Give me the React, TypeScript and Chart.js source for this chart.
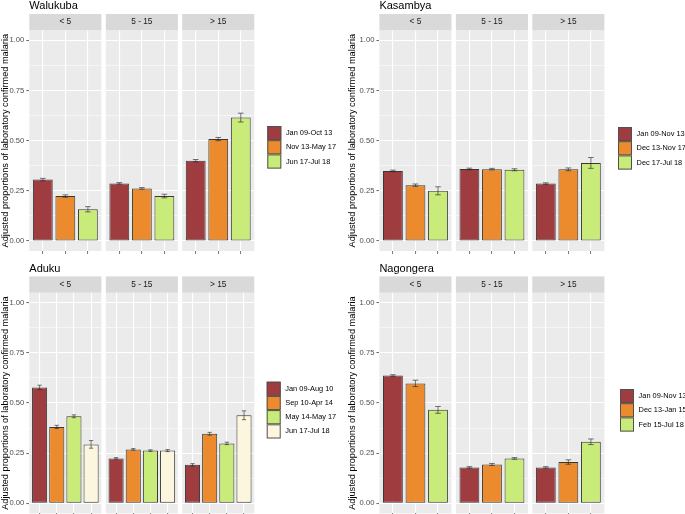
import React, { useEffect, useRef } from 'react';
import { Chart, registerables } from 'chart.js';

Chart.register(...registerables);

// ---------- data ----------
const AGE_GROUPS = ['< 5', '5 - 15', '> 15'];
const Y_TICK_VALUES = [0, 0.25, 0.5, 0.75, 1];
const Y_MINOR_VALUES = [0.125, 0.375, 0.625, 0.875];
const Y_TICK_LABELS = ['0.00', '0.25', '0.50', '0.75', '1.00'];
const Y_TITLE = 'Adjusted proportions of laboratory confirmed malaria';
const PERIOD_COLORS = ['#9E3C40', '#EC8B2E', '#C8EB7A', '#FDF6DF'];

const WALUKUBA_PERIODS = ['Jan 09-Oct 13', 'Nov 13-May 17', 'Jun 17-Jul 18'];
const WALUKUBA_U5 = [0.306, 0.224, 0.158];
const WALUKUBA_5_15 = [0.287, 0.262, 0.224];
const WALUKUBA_O15 = [0.4, 0.508, 0.615];
const WALUKUBA_ERR_U5 = [0.006, 0.006, 0.013];
const WALUKUBA_ERR_5_15 = [0.004, 0.004, 0.009];
const WALUKUBA_ERR_O15 = [0.006, 0.008, 0.022];

const KASAMBYA_PERIODS = ['Jan 09-Nov 13', 'Dec 13-Nov 17', 'Dec 17-Jul 18'];
const KASAMBYA_U5 = [0.349, 0.278, 0.25];
const KASAMBYA_5_15 = [0.359, 0.358, 0.355];
const KASAMBYA_O15 = [0.286, 0.357, 0.389];
const KASAMBYA_ERR_U5 = [0.004, 0.006, 0.02];
const KASAMBYA_ERR_5_15 = [0.004, 0.004, 0.005];
const KASAMBYA_ERR_O15 = [0.004, 0.007, 0.027];

const ADUKU_PERIODS = ['Jan 09-Aug 10', 'Sep 10-Apr 14', 'May 14-May 17', 'Jun 17-Jul 18'];
const ADUKU_U5 = [0.578, 0.381, 0.434, 0.294];
const ADUKU_5_15 = [0.224, 0.269, 0.263, 0.263];
const ADUKU_O15 = [0.192, 0.347, 0.299, 0.439];
const ADUKU_ERR_U5 = [0.011, 0.008, 0.007, 0.019];
const ADUKU_ERR_5_15 = [0.004, 0.004, 0.004, 0.005];
const ADUKU_ERR_O15 = [0.006, 0.007, 0.006, 0.022];

const NAGONGERA_PERIODS = ['Jan 09-Nov 13', 'Dec 13-Jan 15', 'Feb 15-Jul 18'];
const NAGONGERA_U5 = [0.637, 0.598, 0.466];
const NAGONGERA_5_15 = [0.179, 0.194, 0.224];
const NAGONGERA_O15 = [0.179, 0.206, 0.307];
const NAGONGERA_ERR_U5 = [0.004, 0.016, 0.017];
const NAGONGERA_ERR_5_15 = [0.004, 0.005, 0.004];
const NAGONGERA_ERR_O15 = [0.004, 0.011, 0.014];

// ---------- styling / layout ----------
const FONT = '"Liberation Sans", Arial, Helvetica, sans-serif';
const PANEL_BG = '#EBEBEB';
const STRIP_BG = '#D9D9D9';
const BAR_BORDER = 'rgba(40,40,40,0.92)';
const ERR_COLOR = 'rgba(40,40,40,0.8)';
const ERR_CAP = 0.25;
const KEY_SIZE = 14.2;

const FACET_W = 72.1;
const CANVAS_H = 262;
const X_AXIS_H = 4;
const STRIP_H = 16.3;
const COLS = [
  { start: 0, end: 343, titleX: 4.5, facetLefts: [29.3, 105.8, 182.2] },
  { start: 342, end: 685, titleX: 352, facetLefts: [379.4, 455.9, 532.3] },
];
const ROWS = [
  { top: 0, areaTop: 30.3, areaBottom: 251.0 },
  { top: 262, areaTop: 30.7, areaBottom: 251.4 },
];

const SITES = [
  { name: 'Walukuba', row: 0, col: 0, periods: WALUKUBA_PERIODS, values: [WALUKUBA_U5, WALUKUBA_5_15, WALUKUBA_O15], errors: [WALUKUBA_ERR_U5, WALUKUBA_ERR_5_15, WALUKUBA_ERR_O15], legend: { left: 267.3, top: 126 } },
  { name: 'Kasambya', row: 0, col: 1, periods: KASAMBYA_PERIODS, values: [KASAMBYA_U5, KASAMBYA_5_15, KASAMBYA_O15], errors: [KASAMBYA_ERR_U5, KASAMBYA_ERR_5_15, KASAMBYA_ERR_O15], legend: { left: 618, top: 127 } },
  { name: 'Aduku', row: 1, col: 0, periods: ADUKU_PERIODS, values: [ADUKU_U5, ADUKU_5_15, ADUKU_O15], errors: [ADUKU_ERR_U5, ADUKU_ERR_5_15, ADUKU_ERR_O15], legend: { left: 266.7, top: 381.7 } },
  { name: 'Nagongera', row: 1, col: 1, periods: NAGONGERA_PERIODS, values: [NAGONGERA_U5, NAGONGERA_5_15, NAGONGERA_O15], errors: [NAGONGERA_ERR_U5, NAGONGERA_ERR_5_15, NAGONGERA_ERR_O15], legend: { left: 620, top: 389 } },
];

type FacetProps = {
  col: number;
  row: number;
  index: number;
  title: string;
  strip: string;
  values: number[];
  errors: number[];
  legend?: { left: number; top: number; labels: string[] } | null;
};

function Facet({ col, row, index, title, strip, values, errors, legend }: FacetProps) {
  const ref = useRef<HTMLCanvasElement>(null);
  const C = COLS[col];
  const R = ROWS[row];
  const facetLeft = C.facetLefts[index];
  const facetRight = facetLeft + FACET_W;
  const showAxis = index === 0;
  const canvasLeft = showAxis ? C.start : Math.floor(facetLeft) - 1;
  const canvasRight = legend ? C.end : Math.ceil(facetRight) + 1;
  const width = canvasRight - canvasLeft;
  const titleLH = 9.2 * 1.2;
  const padLeft = showAxis ? Math.max(0, C.titleX - C.start - titleLH / 2) : facetLeft - canvasLeft;
  const axisW = showAxis ? facetLeft - canvasLeft - padLeft : 0;
  const padRight = canvasRight - facetRight;
  const padTop = R.areaTop;
  const padBottom = CANVAS_H - R.areaBottom - X_AXIS_H;

  useEffect(() => {
    const n = values.length;
    const decor = {
      id: 'facetDecor',
      beforeDraw(chart: any) {
        const { ctx, chartArea: a } = chart;
        ctx.save();
        ctx.fillStyle = PANEL_BG;
        ctx.fillRect(a.left, a.top, a.right - a.left, a.bottom - a.top);
        ctx.fillStyle = STRIP_BG;
        ctx.fillRect(a.left, a.top - STRIP_H, a.right - a.left, STRIP_H);
        ctx.fillStyle = '#1A1A1A';
        ctx.font = `8.3px ${FONT}`;
        ctx.textAlign = 'center';
        ctx.textBaseline = 'middle';
        ctx.fillText(strip, (a.left + a.right) / 2, a.top - STRIP_H / 2);
        if (title) {
          ctx.fillStyle = '#000000';
          ctx.font = `11px ${FONT}`;
          ctx.textAlign = 'left';
          ctx.textBaseline = 'alphabetic';
          ctx.fillText(title, a.left, a.top - 21);
        }
        if (legend) {
          const lx = legend.left - canvasLeft;
          const ly = legend.top - R.top;
          legend.labels.forEach((lab, i) => {
            const y = ly + i * KEY_SIZE;
            ctx.fillStyle = PERIOD_COLORS[i];
            ctx.fillRect(lx, y, 14, KEY_SIZE);
            ctx.strokeStyle = '#505050';
            ctx.lineWidth = 1;
            ctx.strokeRect(lx + 0.5, y + 0.5, 13, KEY_SIZE - 1);
            ctx.fillStyle = '#000000';
            ctx.font = `7.4px ${FONT}`;
            ctx.textAlign = 'left';
            ctx.textBaseline = 'middle';
            ctx.fillText(lab, lx + 14 + 4.6, y + KEY_SIZE / 2);
          });
        }
        ctx.restore();
      },
      afterDatasetsDraw(chart: any) {
        const { ctx } = chart;
        const xs = chart.scales.x;
        const ys = chart.scales.y;
        ctx.save();
        ctx.strokeStyle = ERR_COLOR;
        ctx.lineWidth = 0.8;
        values.forEach((v, i) => {
          const cx = xs.getPixelForValue(i);
          const hw = (xs.getPixelForValue(ERR_CAP) - xs.getPixelForValue(0)) / 2;
          const yl = ys.getPixelForValue(v - errors[i]);
          const yh = ys.getPixelForValue(v + errors[i]);
          ctx.beginPath();
          ctx.moveTo(cx, yl);
          ctx.lineTo(cx, yh);
          ctx.moveTo(cx - hw, yl);
          ctx.lineTo(cx + hw, yl);
          ctx.moveTo(cx - hw, yh);
          ctx.lineTo(cx + hw, yh);
          ctx.stroke();
        });
        ctx.restore();
      },
    };
    const allY = [...Y_TICK_VALUES, ...Y_MINOR_VALUES].sort((a, b) => a - b);
    const isMinor = (v: any) => Y_MINOR_VALUES.includes(v);
    const chart = new Chart(ref.current as HTMLCanvasElement, {
      type: 'bar',
      data: {
        datasets: [
          {
            data: values.map((v, i) => ({ x: i, y: v })),
            backgroundColor: PERIOD_COLORS.slice(0, n),
            borderColor: BAR_BORDER,
            borderWidth: 1,
            borderSkipped: false,
            barPercentage: 0.88,
            categoryPercentage: 1,
          } as any,
        ],
      },
      options: {
        animation: false,
        responsive: false,
        maintainAspectRatio: false,
        devicePixelRatio: 1,
        events: [],
        layout: { padding: { left: padLeft, right: padRight, top: padTop, bottom: padBottom } },
        plugins: { legend: { display: false }, tooltip: { enabled: false }, title: { display: false } },
        scales: {
          x: {
            type: 'linear',
            min: -0.6,
            max: n - 1 + 0.6,
            offset: false,
            afterBuildTicks: (s: any) => {
              s.ticks = values.map((_, i) => ({ value: i }));
            },
            afterFit: (s: any) => {
              s.height = X_AXIS_H;
            },
            ticks: { display: false },
            grid: {
              color: '#FFFFFF',
              lineWidth: 1.1,
              drawTicks: true,
              tickLength: 3,
              tickColor: '#555555',
              tickWidth: 0.8,
              offset: false,
            },
            border: { display: false },
          } as any,
          y: {
            type: 'linear',
            min: -0.05,
            max: 1.05,
            afterBuildTicks: (s: any) => {
              s.ticks = allY.map((v) => ({ value: v }));
            },
            afterFit: (s: any) => {
              s.width = axisW;
            },
            ticks: {
              display: showAxis,
              padding: 2,
              color: '#4D4D4D',
              font: { family: FONT, size: 7.6 },
              callback: (v: any) => {
                const k = Y_TICK_VALUES.indexOf(v);
                return k >= 0 ? Y_TICK_LABELS[k] : '';
              },
            },
            grid: {
              color: '#FFFFFF',
              lineWidth: (c: any) => (isMinor(c.tick && c.tick.value) ? 0.55 : 1.1),
              drawTicks: showAxis,
              tickLength: 3,
              tickWidth: 0.8,
              tickColor: (c: any) => (isMinor(c.tick && c.tick.value) ? 'rgba(0,0,0,0)' : '#444444'),
            },
            border: { display: false },
            title: {
              display: showAxis,
              text: Y_TITLE,
              color: '#000000',
              font: { family: FONT, size: 9.2, lineHeight: 1.2 },
              padding: { top: 0, bottom: 0 },
            },
          } as any,
        },
      },
      plugins: [decor as any],
    });
    return () => chart.destroy();
  }, []);

  return (
    <canvas
      ref={ref}
      width={width}
      height={CANVAS_H}
      style={{ position: 'absolute', left: canvasLeft, top: R.top, width, height: CANVAS_H }}
    />
  );
}

export default function App() {
  return (
    <div style={{ position: 'absolute', left: 0, top: 0, width: 685, height: 514, overflow: 'hidden', background: '#FFFFFF' }}>
      {SITES.map((s) => (
        <React.Fragment key={s.name}>
          {AGE_GROUPS.map((g, j) => (
            <Facet
              key={g}
              col={s.col}
              row={s.row}
              index={j}
              title={j === 0 ? s.name : ''}
              strip={g}
              values={s.values[j]}
              errors={s.errors[j]}
              legend={j === 2 ? { left: s.legend.left, top: s.legend.top, labels: s.periods } : null}
            />
          ))}
        </React.Fragment>
      ))}
    </div>
  );
}
